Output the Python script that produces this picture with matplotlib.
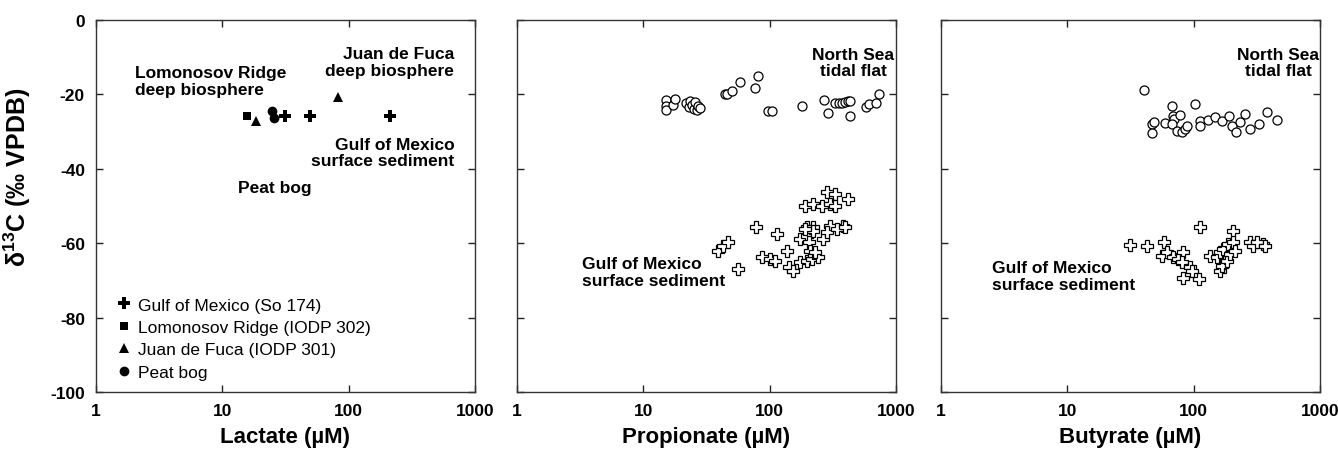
import matplotlib
matplotlib.use("Agg")
import matplotlib.pyplot as plt
from matplotlib.ticker import FixedLocator, FixedFormatter, NullLocator

FAM = ['Liberation Sans', 'DejaVu Sans']
plt.rcParams['font.family'] = FAM
plt.rcParams['font.weight'] = 'bold'
plt.rcParams['axes.labelweight'] = 'bold'
plt.rcParams['mathtext.fontset'] = 'custom'
plt.rcParams['mathtext.rm'] = 'Liberation Sans:bold'
plt.rcParams['mathtext.it'] = 'Liberation Sans:bold'
plt.rcParams['mathtext.bf'] = 'Liberation Sans:bold'

# ---------------- data ----------------
xticks = [1, 10, 100, 1000]
xtick_labels = ['1', '10', '100', '1000']
yticks = [0, -20, -40, -60, -80, -100]
ytick_labels = ['0', '-20', '-40', '-60', '-80', '-100']

# Lactate panel
lac_gom_x = [31.4, 49.5, 213]
lac_gom_y = [-25.9, -25.9, -25.9]
lac_lomo_x = [15.6]
lac_lomo_y = [-25.9]
lac_jdf_x = [18.5, 82.9]
lac_jdf_y = [-27.1, -20.8]
lac_peat_x = [24.6, 25.7]
lac_peat_y = [-24.4, -26.3]

# Propionate panel
prop_ns_x = [15.0, 15.0, 15.0, 17.1, 17.9, 21.8, 22.8, 23.5, 24.2, 25.0, 25.8, 26.5, 27.3, 28.1,
             44.1, 46.2, 50.4, 58.3, 77.1, 80.9, 97.7, 105, 179, 270, 292,
             330, 355, 375, 395, 415, 433, 433, 577, 612, 692, 735]
prop_ns_y = [-21.4, -23.2, -24.1, -22.8, -21.2, -22.3, -23.4, -21.8, -22.9, -23.8, -22.1, -24.1, -23.0, -23.6,
             -19.8, -19.8, -19.2, -16.7, -18.3, -15.0, -24.5, -24.5, -23.0, -21.4, -24.9,
             -22.2, -22.4, -22.3, -22.1, -21.9, -21.7, -25.8, -23.3, -22.6, -22.4, -20.0]
prop_gom_x = [283, 330, 420, 191, 222, 259, 301, 330, 78, 197, 222, 301, 384,
              114, 39.3, 43.0, 47.1, 56.5, 86.6, 101, 110, 137, 141, 154,
              174, 197, 215, 243, 174, 197, 222, 191, 204, 209, 229, 266, 283, 340, 395]
prop_gom_y = [-46.3, -46.8, -48.1, -49.9, -49.5, -50.1, -49.5, -49.9, -55.7, -55.7, -55.7, -55.3, -55.3,
              -57.5, -62.0, -60.7, -59.8, -66.9, -63.8, -64.2, -64.7, -62.0, -66.5, -67.4,
              -65.1, -64.7, -64.2, -63.8, -58.9, -58.0, -56.6, -56.2, -59.8, -62.0, -62.4, -58.9, -57.1, -56.2, -55.7]

# Butyrate panel
but_ns_x = [40.5, 46.6, 48.6, 46.6, 59.4, 67.1, 69, 70, 78, 67, 73.5, 80.5, 85.5, 88.2, 103, 112, 112,
            130, 148, 168, 191, 201, 217, 233, 255, 280, 330, 380, 455]
but_ns_y = [-18.7, -28.0, -27.3, -30.4, -27.7, -23.2, -25.7, -26.6, -25.5, -28.0, -29.8, -30.0, -29.3, -28.4,
            -22.6, -27.1, -28.4, -26.9, -26.1, -27.2, -25.8, -28.5, -30.1, -27.4, -25.3, -29.3, -28.0, -24.8, -27.0]
but_gom_x = [31.4, 42.5, 58.3, 55.9, 61.2, 69.1, 75.7, 82.9, 80.5, 93.6, 96.6, 81.9, 111, 112, 206,
             135, 152, 162, 172, 162, 169, 183, 194, 188, 206, 213, 280, 297, 357, 316, 367]
but_gom_y = [-60.5, -60.8, -59.8, -63.4, -62.4, -63.8, -64.2, -62.4, -65.1, -66.5, -67.4, -69.4, -69.6, -55.7, -56.6,
             -63.4, -63.8, -62.4, -61.6, -67.4, -66.0, -64.7, -62.9, -60.2, -59.8, -62.0, -59.8, -60.7, -60.2, -59.8, -60.8]

legend_labels = ['Gulf of Mexico (So 174)', 'Lomonosov Ridge (IODP 302)',
                 'Juan de Fuca (IODP 301)', 'Peat bog']
xlabels = ['Lactate (µM)', 'Propionate (µM)', 'Butyrate (µM)']

# ---------------- figure ----------------
fig = plt.figure(figsize=(13.38, 4.6), dpi=100)
W, H = 1338, 460
lefts = [96, 517, 941]
pw = 379
bottom_px, top_px = 393, 21
axes = []
for L in lefts:
    ax = fig.add_axes([L / W, (H - bottom_px) / H, pw / W, (bottom_px - top_px) / H])
    axes.append(ax)

for i, ax in enumerate(axes):
    ax.set_xscale('log')
    ax.set_xlim(1, 1000)
    ax.set_ylim(-100, 0)
    ax.xaxis.set_major_locator(FixedLocator(xticks))
    ax.xaxis.set_major_formatter(FixedFormatter(xtick_labels))
    ax.xaxis.set_minor_locator(NullLocator())
    ax.yaxis.set_major_locator(FixedLocator(yticks))
    ax.tick_params(direction='in', top=True, right=True, length=5, width=1,
                   labelsize=12.5, pad=8, colors='#222222', labelcolor='black')
    if i == 0:
        ax.yaxis.set_major_formatter(FixedFormatter(ytick_labels))
    else:
        ax.tick_params(labelleft=False)
    for s in ax.spines.values():
        s.set_linewidth(1.0)
        s.set_color('#333333')
    ax.set_xlabel(xlabels[i], fontsize=16, labelpad=6)

ax1, ax2, ax3 = axes

# Panel 1
h1, = ax1.plot(lac_gom_x, lac_gom_y, 'P', color='black', ms=9, mew=0, ls='none')
h2, = ax1.plot(lac_lomo_x, lac_lomo_y, 's', color='black', ms=5.5, mew=0, ls='none')
h3, = ax1.plot(lac_jdf_x, lac_jdf_y, '^', color='black', ms=6.5, mew=0, ls='none')
h4, = ax1.plot(lac_peat_x, lac_peat_y, 'o', color='black', ms=7, mew=0, ls='none')
ax1.set_ylabel('δ$^{13}$C (‰ VPDB)', fontsize=18)
ax1.yaxis.set_label_coords(-0.165, 0.58)

leg = ax1.legend([h1, h2, h3, h4], legend_labels, loc='lower left',
                 bbox_to_anchor=(0.02, 0.0), frameon=False,
                 prop={'family': FAM, 'weight': 'normal', 'size': 12.5},
                 handlelength=1.0, handletextpad=0.3, labelspacing=0.42,
                 borderpad=0.2, markerscale=1.0)

tkw = dict(fontsize=12.5, fontweight='bold', va='center', linespacing=1.15)
ax1.text(2.04, -16.4, 'Lomonosov Ridge\ndeep biosphere', ha='left', **tkw)
ax1.text(684, -11.3, 'Juan de Fuca\ndeep biosphere', ha='right', multialignment='right', **tkw)
ax1.text(684, -35.6, 'Gulf of Mexico\nsurface sediment', ha='right', multialignment='right', **tkw)
ax1.text(26.1, -45.0, 'Peat bog', ha='center', **tkw)

# Panel 2
ax2.plot(prop_ns_x, prop_ns_y, 'o', mfc='white', mec='black', mew=0.9, ms=6.5, ls='none')
ax2.plot(prop_gom_x, prop_gom_y, 'P', mfc='white', mec='black', mew=0.9, ms=9, ls='none')
ax2.text(457, -11.4, 'North Sea\ntidal flat', ha='center', multialignment='center', **tkw)
ax2.text(3.25, -67.8, 'Gulf of Mexico\nsurface sediment', ha='left', **tkw)

# Panel 3
ax3.plot(but_ns_x, but_ns_y, 'o', mfc='white', mec='black', mew=0.9, ms=6.5, ls='none')
ax3.plot(but_gom_x, but_gom_y, 'P', mfc='white', mec='black', mew=0.9, ms=9, ls='none')
ax3.text(466, -11.4, 'North Sea\ntidal flat', ha='center', multialignment='center', **tkw)
ax3.text(2.54, -68.8, 'Gulf of Mexico\nsurface sediment', ha='left', **tkw)

fig.savefig('out.png', dpi=100)
